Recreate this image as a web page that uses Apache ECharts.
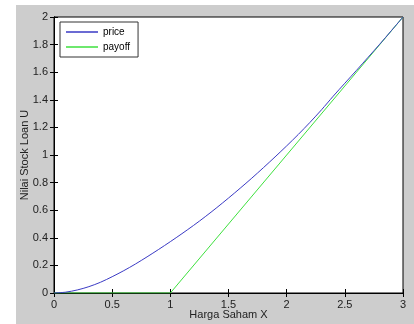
<!DOCTYPE html>
<html>
<head>
<meta charset="utf-8">
<script src="https://cdn.jsdelivr.net/npm/echarts@6/dist/echarts.min.js"></script>
<style>html,body{margin:0;padding:0;background:#fff;}#c{width:414px;height:324px;}</style>
</head>
<body>
<div id="c"></div>
<script>
const priceX = [0,0.1,0.2,0.3,0.4,0.5,0.6,0.7,0.8,0.9,1.0,1.1,1.2,1.3,1.4,1.5,1.6,1.7,1.8,1.9,2.0,2.1,2.2,2.3,2.4,2.5,2.6,2.7,2.8,2.9,3.0];
const priceY = [0,0.006,0.022,0.046,0.078,0.118,0.162,0.21,0.262,0.316,0.372,0.43,0.49,0.553,0.619,0.688,0.759,0.832,0.908,0.986,1.066,1.149,1.236,1.328,1.426,1.52,1.613,1.708,1.803,1.901,2.0];
const payoffX = [0,1,3];
const payoffY = [0,0,2];
const xTicks = [0,0.5,1,1.5,2,2.5,3];
const yTicks = [0,0.2,0.4,0.6,0.8,1,1.2,1.4,1.6,1.8,2];

const chart = echarts.init(document.getElementById('c'), null, {renderer:'canvas'});
const fnt = 'Liberation Sans, Arial, sans-serif';
const tick = {show:true, inside:true, length:4, lineStyle:{color:'#000', width:1}};
chart.setOption({
  animation:false,
  backgroundColor:'#ffffff',
  graphic:[{type:'rect', z:-100, silent:true, shape:{x:16,y:5,width:398,height:319}, style:{fill:'#cdcdcd'}}],
  grid:{left:54, right:11, top:17, bottom:31, outerBoundsMode:'none', containLabel:false, show:true, backgroundColor:'#ffffff', borderColor:'#000', borderWidth:1},
  legend:{
    left:60, top:22, orient:'vertical',
    backgroundColor:'#fff', borderColor:'#333', borderWidth:1,
    padding:[5,8,5,6], itemGap:5, itemWidth:32, itemHeight:1.5, icon:'rect',
    textStyle:{fontFamily:fnt, fontSize:10, color:'#000'},
    data:['price','payoff']
  },
  xAxis:[
    {type:'value', min:0, max:3, interval:0.5, position:'bottom',
     name:'Harga Saham X', nameLocation:'middle', nameGap:16, nameMoveOverlap:false,
     nameTextStyle:{fontFamily:fnt, fontSize:11, color:'#222'},
     axisLine:{lineStyle:{color:'#000'}}, axisTick:tick, splitLine:{show:false},
     axisLabel:{fontFamily:fnt, fontSize:11, color:'#222', margin:6,
       formatter:v=>String(xTicks.find(t=>Math.abs(t-v)<1e-9))}},
    {type:'value', min:0, max:3, interval:0.5, position:'top',
     axisLine:{lineStyle:{color:'#000'}}, axisTick:tick, axisLabel:{show:false}, splitLine:{show:false}}
  ],
  yAxis:[
    {type:'value', min:0, max:2, interval:0.2, position:'left',
     name:'Nilai Stock Loan U', nameLocation:'middle', nameGap:24, nameRotate:90, nameMoveOverlap:false,
     nameTextStyle:{fontFamily:fnt, fontSize:11, color:'#222'},
     axisLine:{lineStyle:{color:'#000'}}, axisTick:tick, splitLine:{show:false},
     axisLabel:{fontFamily:fnt, fontSize:11, color:'#222', margin:6,
       formatter:v=>{const t=yTicks.find(t=>Math.abs(t-v)<1e-9); return String(+t.toFixed(1));}}},
    {type:'value', min:0, max:2, interval:0.2, position:'right',
     axisLine:{lineStyle:{color:'#000'}}, axisTick:tick, axisLabel:{show:false}, splitLine:{show:false}}
  ],
  series:[
    {name:'price', type:'line', showSymbol:false, smooth:0.3, color:'#3a3ac4',
     lineStyle:{width:1, color:'#3a3ac4'}, data:priceX.map((x,i)=>[x,priceY[i]]), z:3},
    {name:'payoff', type:'line', showSymbol:false, color:'#3ee03e',
     lineStyle:{width:1, color:'#3ee03e'}, data:payoffX.map((x,i)=>[x,payoffY[i]]), z:2}
  ]
});
</script>
</body>
</html>
